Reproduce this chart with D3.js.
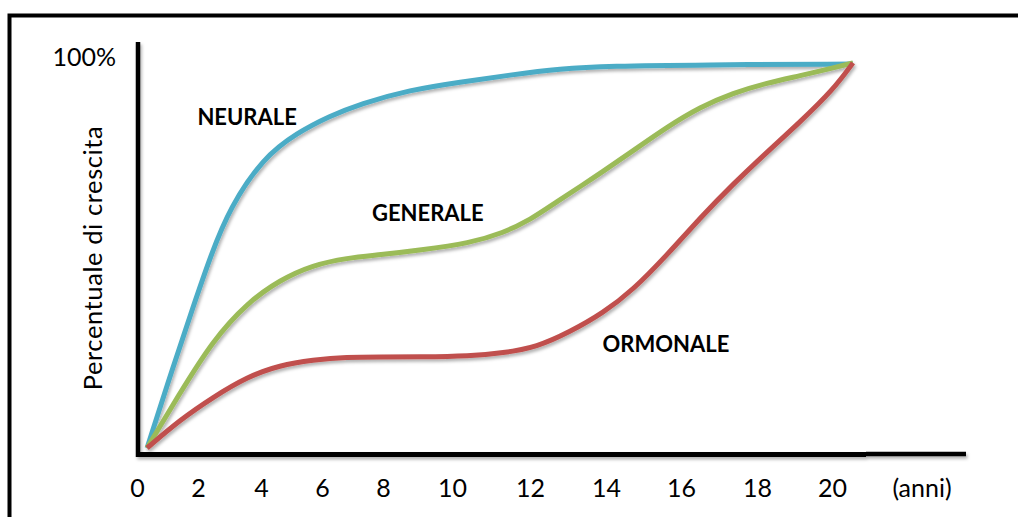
<!DOCTYPE html>
<html>
<head>
<meta charset="utf-8">
<script src="https://cdn.jsdelivr.net/npm/d3@7"></script>
<style>
  html, body { margin: 0; padding: 0; background: #ffffff; }
  svg { display: block; }
</style>
</head>
<body>
<svg id="chart" width="1018" height="517"></svg>
<script>
// ---------------- DATA ----------------
const tickValues = [0, 2, 4, 6, 8, 10, 12, 14, 16, 18, 20];
const tickLabels = ["0", "2", "4", "6", "8", "10", "12", "14", "16", "18", "20"];
const xUnitLabel = "(anni)";
const yTopLabel = "100%";
const yTitle = "Percentuale di crescita";
const seriesNames = ["NEURALE", "GENERALE", "ORMONALE"];

// [anni, percentuale]
const neurale = [
  [0.33, 0], [1.18, 20.7], [1.84, 36.1], [2.41, 49.4], [3.02, 61.6],
  [4.07, 74.2], [5.18, 80.6], [6.26, 84.9], [7.25, 88.0], [8.78, 91.6],
  [10.21, 93.6], [11.49, 95.4], [12.79, 97.0], [14.11, 97.7], [16.5, 98.0],
  [20.56, 98.2]
];
const generale = [
  [0.33, 0], [1.41, 14.1], [2.48, 27.6], [3.56, 37.1], [4.62, 43.0],
  [5.7, 46.8], [6.82, 48.6], [7.9, 49.4], [9.07, 50.6], [10.46, 52.4],
  [11.31, 55.0], [12.0, 58.3], [12.71, 63.0], [13.39, 67.3], [13.84, 70.2],
  [14.72, 76.0], [15.63, 82.1], [16.5, 87.2], [17.37, 90.8], [18.27, 93.4],
  [19.15, 95.2], [20.03, 97.2], [20.56, 98.5]
];
const ormonale = [
  [0.33, 0], [1.41, 7.2], [2.48, 13.0], [3.56, 18.2], [4.62, 21.2],
  [5.7, 22.5], [6.82, 23.3], [7.9, 23.3], [9.07, 23.3], [10.46, 23.5],
  [11.31, 24.3], [12.18, 25.8], [13.05, 29.7], [13.92, 34.5], [14.72, 40.4],
  [15.63, 49.4], [16.5, 58.8], [17.37, 67.5], [18.27, 75.7], [19.15, 83.4],
  [20.03, 91.6], [20.56, 98.5]
];
// label anchor points [anni, percentuale]
const labelAnchors = [[3.56, 82.6], [9.3, 58.1], [15.6, 24.6]];

// ---------------- LAYOUT ----------------
const colors = ["#4BACC6", "#9BBB59", "#C0504D"];
const seriesData = [neurale, generale, ormonale];
const FONT = "Lato, 'Open Sans', sans-serif";

// hand-drawn diagram: tick labels are not evenly spaced, so the scale is piecewise linear
const xRangePx = [137, 198, 261, 322, 383, 452, 530, 606, 681, 757, 832];
const x = d3.scaleLinear().domain(tickValues).range(xRangePx);
const y = d3.scaleLinear().domain([0, 100]).range([448, 57]);

const svg = d3.select("#chart");

const defs = svg.append("defs");
const f = defs.append("filter").attr("id", "shadow")
  .attr("x", "-10%").attr("y", "-10%").attr("width", "130%").attr("height", "130%");
f.append("feDropShadow").attr("dx", 1.5).attr("dy", 2.5)
  .attr("stdDeviation", 1.5).attr("flood-color", "#000").attr("flood-opacity", 0.3);

// outer frame (only top and left edges visible)
svg.append("path")
  .attr("d", "M9.5,530 L9.5,15.5 L1030,15.5")
  .attr("fill", "none").attr("stroke", "#000").attr("stroke-width", 4);

// dashed 100% line
svg.append("line")
  .attr("x1", 141).attr("x2", 955)
  .attr("y1", y(100)).attr("y2", y(100))
  .attr("stroke", "#000").attr("stroke-width", 3)
  .attr("stroke-dasharray", "9,6")
  .attr("filter", "url(#shadow)");

// axes
const axisG = svg.append("g").attr("filter", "url(#shadow)");
axisG.append("line")
  .attr("x1", 138).attr("x2", 138).attr("y1", 42).attr("y2", 457)
  .attr("stroke", "#000").attr("stroke-width", 4.5);
axisG.append("line")
  .attr("x1", 136).attr("x2", 866).attr("y1", y(0) + 6.5).attr("y2", y(0) + 6.5)
  .attr("stroke", "#000").attr("stroke-width", 5);
axisG.append("line")
  .attr("x1", 866).attr("x2", 966).attr("y1", y(0) + 6).attr("y2", y(0) + 6)
  .attr("stroke", "#000").attr("stroke-width", 4.5);

// x tick labels via d3 axis (domain line and ticks hidden)
const xAxis = d3.axisBottom(x).tickValues(tickValues)
  .tickFormat((d, i) => tickLabels[i]).tickSize(0).tickPadding(0);
const gx = svg.append("g").attr("transform", "translate(0,479)").call(xAxis);
gx.select(".domain").remove();
gx.selectAll("text")
  .attr("dy", "0.71em")
  .attr("font-family", FONT).attr("font-size", 25).attr("fill", "#000");

svg.append("text")
  .attr("x", 922).attr("y", 497)
  .attr("text-anchor", "middle")
  .attr("font-family", FONT).attr("font-size", 25).attr("fill", "#000")
  .text(xUnitLabel);

// 100% label
svg.append("text")
  .attr("x", 116).attr("y", y(100))
  .attr("dy", "0.36em")
  .attr("text-anchor", "end")
  .attr("font-family", FONT).attr("font-size", 25).attr("fill", "#000")
  .text(yTopLabel);

// y title
svg.append("text")
  .attr("transform", "translate(102,258) rotate(-90)")
  .attr("text-anchor", "middle")
  .attr("font-family", FONT).attr("font-size", 25.5)
  .attr("letter-spacing", 0.6).attr("fill", "#000")
  .text(yTitle);

// curves
const line = d3.line()
  .x(d => x(d[0])).y(d => y(d[1]))
  .curve(d3.curveBasis);

svg.append("g").attr("filter", "url(#shadow)")
  .selectAll("path")
  .data(seriesData)
  .join("path")
  .attr("d", line)
  .attr("fill", "none")
  .attr("stroke", (d, i) => colors[i])
  .attr("stroke-width", 5)
  .attr("stroke-linecap", "butt")
  .attr("stroke-linejoin", "round");

// series labels
svg.append("g")
  .selectAll("text")
  .data(seriesNames)
  .join("text")
  .attr("x", (d, i) => x(labelAnchors[i][0]))
  .attr("y", (d, i) => y(labelAnchors[i][1]))
  .attr("text-anchor", "middle")
  .attr("font-family", FONT).attr("font-weight", "bold")
  .attr("font-size", 22).attr("fill", "#000")
  .text(d => d);
</script>
</body>
</html>
